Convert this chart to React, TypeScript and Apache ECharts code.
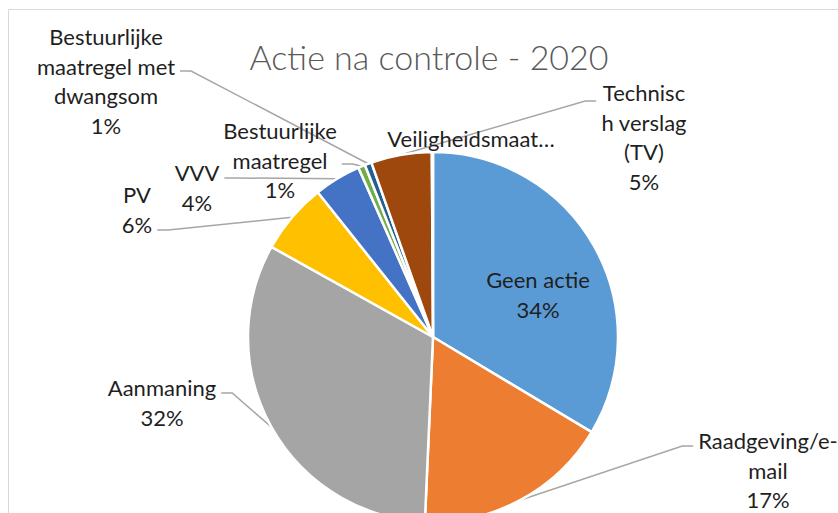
import React, { useEffect, useRef } from 'react';
import * as echarts from 'echarts';

const titleText = 'Actie na controle - 2020';
const categories = [
  'Geen actie',
  'Raadgeving/e-mail',
  'Aanmaning',
  'PV',
  'VVV',
  'Bestuurlijke maatregel',
  'Bestuurlijke maatregel met dwangsom',
  'Technisch verslag (TV)',
  'Veiligheidsmaatregel',
];
const values = [33.6, 17.1, 32.4, 6.2, 4.1, 0.6, 0.6, 5.3, 0.1];
const labelTexts = [
  'Geen actie',
  'Raadgeving/e-\nmail',
  'Aanmaning',
  'PV',
  'VVV',
  'Bestuurlijke\nmaatregel',
  'Bestuurlijke\nmaatregel met\ndwangsom',
  'Technisc\nh verslag\n(TV)',
  'Veiligheidsmaat…',
];
const showPercent = [true, true, true, true, true, true, true, true, false];
const colors = ['#5B9BD5', '#ED7D31', '#A5A5A5', '#FFC000', '#4472C4', '#70AD47', '#255E91', '#9E480E', '#636363'];

// label placement: [center x, top y, leader attach y (null = no leader)]
const labelBoxes: [number, number, number | null][] = [
  [538, 265, null],
  [768, 426, 446],
  [162, 373, 393],
  [137, 180, 230],
  [197, 158, 178],
  [280, 116, 164],
  [106, 22, 71],
  [644, 78, 101],
  [471, 124, null],
];

export default function App() {
  const ref = useRef<HTMLDivElement>(null);
  useEffect(() => {
    if (!ref.current) return;
    const chart = echarts.init(ref.current, undefined, { renderer: 'svg' });
    const total = values.reduce((a, b) => a + b, 0);
    const data = categories.map((name, i) => {
      const item: any = { name, value: values[i], itemStyle: { color: colors[i] } };
      if (i === 0) {
        item.label = { position: 'inside' };
        item.labelLine = { show: false };
      }
      if (i === categories.length - 1) {
        item.labelLine = { show: false };
      }
      return item;
    });
    chart.setOption({
      animation: false,
      graphic: [
        {
          type: 'rect',
          shape: { x: 8.5, y: 9.5, width: 900, height: 600 },
          style: { fill: 'none', stroke: '#D9D9D9', lineWidth: 1 },
          z: -10,
          silent: true,
        },
        {
          type: 'text',
          x: 429,
          y: 56,
          style: {
            text: titleText,
            fill: '#595959',
            font: '300 34px Lato',
            align: 'center',
            verticalAlign: 'middle',
          },
          z: 10,
          silent: true,
        },
      ],
      series: [
        {
          type: 'pie',
          center: [433, 337],
          radius: 185,
          startAngle: 90,
          clockwise: true,
          avoidLabelOverlap: false,
          silent: true,
          itemStyle: { borderColor: '#FFFFFF', borderWidth: 2.5 },
          label: {
            show: true,
            position: 'outside',
            color: '#1F1F1F',
            fontFamily: 'Lato',
            fontSize: 22,
            lineHeight: 29.5,
            overflow: 'none',
            align: 'center',
            formatter: (p: any) => {
              const i = p.dataIndex;
              const pct = Math.round((values[i] / total) * 100);
              return showPercent[i] ? labelTexts[i] + '\n' + pct + '%' : labelTexts[i];
            },
          },
          labelLine: {
            show: true,
            lineStyle: { color: '#A6A6A6', width: 1.5 },
          },
          labelLayout: (p: any) => {
            const [cx, top, ly] = labelBoxes[p.dataIndex];
            const w = p.labelRect.width;
            const res: any = { x: cx, y: top, align: 'center', verticalAlign: 'top' };
            if (ly != null && p.labelLinePoints) {
              const a = p.labelLinePoints[0];
              const toRight = a[0] > cx;
              const endX = toRight ? cx + w / 2 + 5 : cx - w / 2 - 5;
              const bendX = toRight ? endX + 11 : endX - 11;
              res.labelLinePoints = [a, [bendX, ly], [endX, ly]];
            }
            return res;
          },
          data,
        },
      ],
    });
    return () => chart.dispose();
  }, []);
  return (
    <div
      ref={ref}
      style={{ position: 'absolute', left: 0, top: 0, width: 838, height: 513, background: '#FFFFFF' }}
    />
  );
}
